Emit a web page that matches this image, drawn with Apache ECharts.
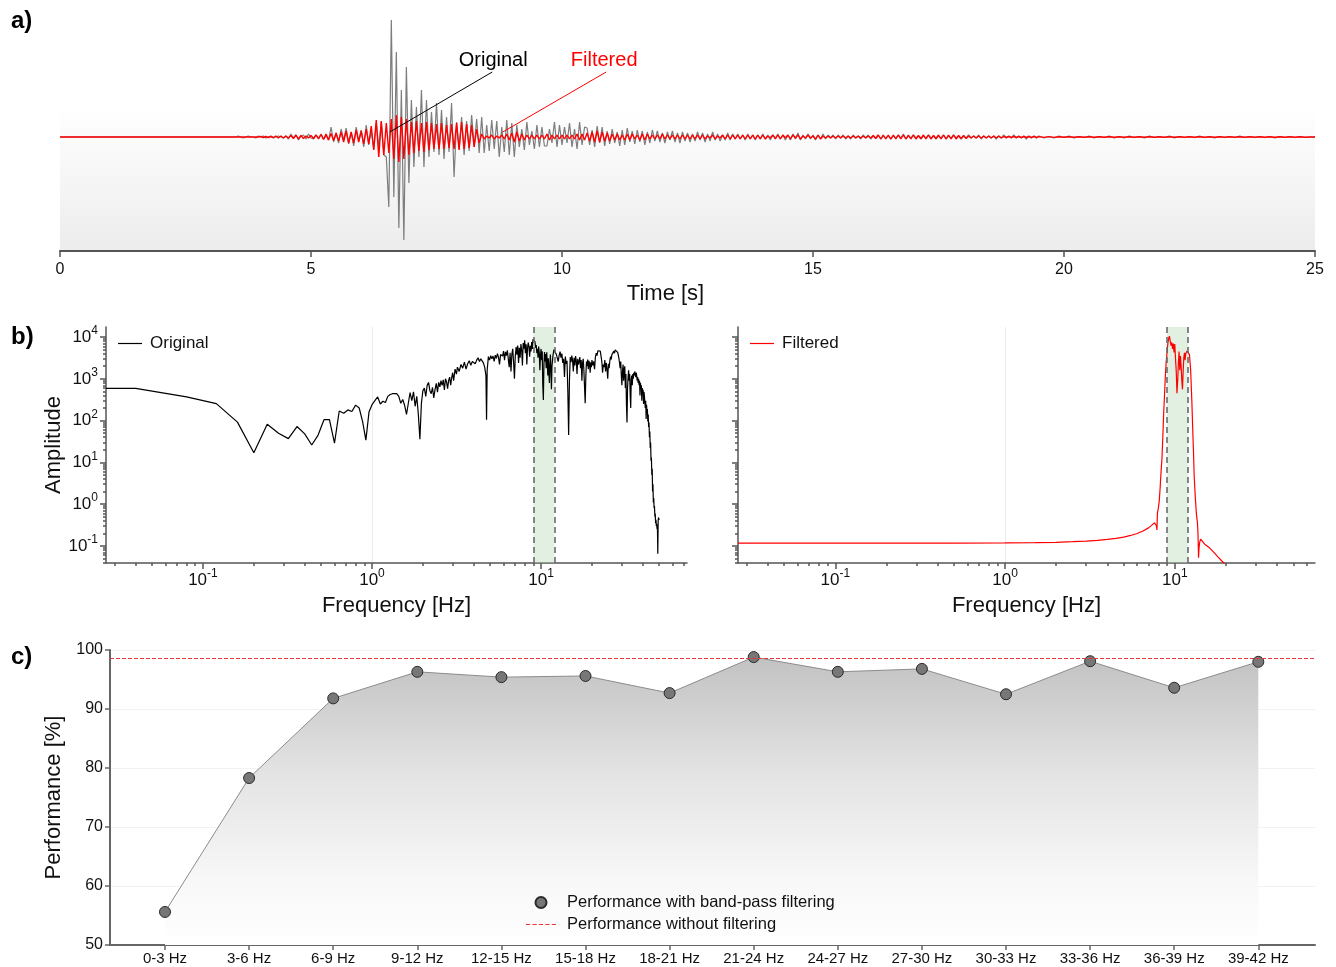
<!DOCTYPE html>
<html>
<head>
<meta charset="utf-8">
<script src="https://cdn.jsdelivr.net/npm/echarts@6/dist/echarts.min.js"></script>
<style>
  html, body { margin: 0; padding: 0; background: #fff; }
  #chart { width: 1336px; height: 967px; }
</style>
</head>
<body>
<div id="chart"></div>
<script>
// ---------- a) seismogram, original vs band-pass filtered ----------
const TIME_MIN = 0, TIME_MAX = 25, TIME_STEP = 5;

// Dense part of the record: one sample every 0.05 s starting at 3.5 s (one row = 1 s)
const burstStart = 3.5, burstDt = 0.05;
const originalBurst = [
  0,1,0,-1,0,1,0,0,-1,1, 0,1,-1,0,1,-1,0,1,0,-1,
  1,-2,3,-1,2,-3,1,2,-2,3, -1,-2,2,-1,3,-2,1,-3,10,-5,
  4,-6,8,-3,9,-7,5,-9,10,-4, 7,-10,12,-8,6,-12,14,-10,15,-18,
  -20,-70,117,-60,85,-91,47,-103,70,-46, 37,-30,30,-20,47,-30,37,-20,25,-15,
  34,-18,27,-22,20,-15,34,-40,15,-12, 20,-18,16,-14,22,-10,18,-16,20,-16,
  12,-14,17,-12,16,-20,10,-15,17,-18, 14,-20,12,-10,8,-13,15,-8,6,-12,
  12,-10,10,-9,-9,8,-6,15,-10,12, -8,10,-6,14,-10,8,-12,15,-8,10,
  9,-8,7,-10,11,-6,10,-9,6,-7, 8,-6,5,-9,7,-8,9,-5,6,-7,
  7,-5,6,-8,5,-6,7,-4,6,-5, 4,-6,5,-3,6,-5,4,-6,5,-4,
  4,-5,3,-4,5,-3,4,-5,3,-4, 5,-3,3,-4,2,-3,4,-3,3,-2,
  3,-2,2,-3,3,-2,2,-3,2,-2, 3,-2,2,-3,2,-1,3,-2,2,-3,
  2,-3,3,-2,4,-3,2,-2,3,-2, 2,-3,2,-2,3,-2,2,-1,2,-2,
  2,-1,2,-2,1,-2,2,-1,1,-2, 2,-1,2,-2,1,-1,2,-2,1,-1,
  1,-2,1,-1,2,-1,3,-2,1,-1, 2,-1,1,-2,1,-1,2,-1,1,-2,
  1,-1,2,-2,1,-1,2,-1,1,-2, 1,-1,2,-1,1,-1,2,-2,1,-1,
  1,-1,1,-2,1,-1,2,-1,1,-1, 2,-1,1,-1,1,-2,1,-1,1,-1
];
const filteredBurst = [
  0,0,0,0,0,0,0,0,0,0, 0.5,-0.5,0.5,-0.5,0.5,-0.5,1,-1,1,-1,
  1,-1,1.5,-1.5,2,-2,1.5,-1.5,1,-1, 1.5,-1.5,2,-2,2.5,-2.5,3,-3,3.5,-3.5,
  4,-4,5,-5,6,-6,5,-6,7,-5, 6,-7,8,-7,11,-13,17,-20,16,-18,
  14,-16,18,-22,22,-25,20,-22,18,-18, 15,-16,16,-14,14,-15,15,-13,14,-12,
  13,-12,14,-12,12,-11,13,-12,14,-13, 15,-12,13,-11,12,-10,8,-6,3,-2,
  1,-1,2,-2,1,-1,2,-2,3,-3, 4,-5,5,-4,3,-3,2,-2,2,-2,
  2,-2,2,-2,3,-3,2,-2,2,-2, 2,-2,2,-2,2,-2,3,-3,3,-3,
  4,-4,5,-5,6,-5,5,-4,4,-4, 3,-3,3,-3,2,-3,3,-3,3,-2,
  2,-3,3,-3,3,-2,2,-2,2,-2, 3,-2,2,-2,2,-2,2,-2,2,-2,
  2,-2,2,-2,2,-2,2,-2,1,-1, 2,-2,1,-1,2,-2,2,-2,2,-2,
  2,-2,2,-2,2,-2,2,-2,2,-2, 2,-2,1,-1,2,-2,2,-2,2,-1,
  2,-2,2,-1,2,-2,1,-1,2,-1, 1,-2,2,-2,1,-1,1,-1,1,-1,
  1,-1,1,-1,1,-1,1,-1,1,-1, 1,-1,1,-1,1.5,-1.5,2,-2,2,-2,
  2,-2,2,-2,2,-2,2,-2,2,-2, 2,-2,1.5,-1.5,2,-2,2,-2,1.5,-1.5,
  2,-2,2,-2,2,-2,2,-2,1.5,-1.5, 1.5,-1.5,1,-1,1,-1,1,-1,1,-1,
  1,-1,1,-1,1,-1,0.5,-0.5,0.5,-0.5, 0.5,-0.5,0.5,-0.5,0.5,-0.5,0.5,-0.5,0.5,-0.5
];
// Quiet coda: one sample every 0.1 s from 19.5 s
const codaStart = 19.5, codaDt = 0.1;
const originalCoda = [
  1,-1,0.5,-1,1,-0.5,1,-1,0.5,-0.5, 1,-1,0.5,-0.5,1,-1,0.5,-1,1,-0.5,
  0.5,-1,1,-0.5,0.5,-0.5,1,-1,0.5,-0.5, 0.5,-0.5,1,-0.5,0.5,-1,0.5,-0.5,0.5,-0.5,
  1,-0.5,0.5,-0.5,0.5,-0.5,0.5,-1,0.5,-0.5, 0.5,-0.5,0.5,-0.5,0
];
const filteredCoda = [
  0.4,-0.4,0.4,-0.4,0.3,-0.3,0.3,-0.3,0.3,-0.3, 0.3,-0.3,0.3,-0.3,0.3,-0.3,0.3,-0.3,0.3,-0.3,
  0.3,-0.3,0.2,-0.2,0.2,-0.2,0.2,-0.2,0.2,-0.2, 0.2,-0.2,0.2,-0.2,0.2,-0.2,0.2,-0.2,0.2,-0.2,
  0.2,-0.2,0.2,-0.2,0.2,-0.2,0.2,-0.2,0.2,-0.2, 0.2,-0.2,0.2,-0.2,0
];

// ---------- b) amplitude spectra [frequency Hz, amplitude] ----------
const FREQ_MIN = 0.0267;
const FREQ_MAX_LEFT = 73, FREQ_MAX_RIGHT = 67;
const AMP_MIN = 0.039, AMP_MAX = 17400;
const passBand = [9, 12];
const freqMajorTicks = [0.1, 1, 10];
const ampMajorTicks = [0.1, 1, 10, 100, 1000, 10000];

const originalSpectrum = [
  [0.0267,590],[0.04,590],[0.08,370],[0.12,255],[0.16,92],[0.2,17],[0.24,82],[0.28,50],[0.32,37],[0.36,72],
  [0.4,48],[0.44,26],[0.48,45],[0.52,105],[0.56,105],[0.6,29],[0.64,170],[0.68,150],[0.72,180],[0.76,165],
  [0.8,235],[0.84,200],[0.88,95],[0.92,34],[0.96,160],[1.0,240],[1.04,300],[1.08,370],[1.12,250],[1.16,290],
  [1.2,270],[1.24,380],[1.28,420],[1.32,440],[1.4,440],[1.44,380],[1.48,260],[1.52,320],[1.56,230],[1.6,140],
  [1.64,260],[1.68,470],[1.72,300],[1.76,490],[1.8,220],[1.84,380],[1.88,140],[1.92,36],[1.96,260],[2.0,520],
  [2.04,600],[2.08,380],[2.12,700],[2.16,820],[2.2,520],[2.24,440],[2.28,620],[2.32,350],[2.36,560],[2.4,780],
  [2.44,480],[2.48,820],[2.52,640],[2.56,900],[2.6,700],[2.64,950],[2.68,540],[2.72,1000],[2.76,850],[2.8,580],
  [2.84,920],[2.88,1100],[2.92,700],[2.96,1050],[3.0,1400],[3.04,900],[3.1,1700],[3.16,1300],[3.2,1900],[3.28,1500],
  [3.36,2200],[3.44,1800],[3.52,2500],[3.6,1700],[3.68,2300],[3.76,2700],[3.84,2100],[3.92,2600],[4.0,2900],[4.08,2300],
  [4.16,2800],[4.24,3200],[4.32,2600],[4.4,3000],[4.48,2700],[4.56,2400],[4.64,1900],[4.72,1200],[4.76,105],[4.8,1600],
  [4.88,3400],[4.96,2800],[5.04,3600],[5.12,3000],[5.2,3500],[5.28,2600],[5.36,3700],[5.44,3100],[5.52,4000],[5.6,3300],
  [5.68,2200],[5.76,3800],[5.84,4200],[5.92,3500],[6.0,4600],[6.08,2800],[6.16,4400],[6.24,3600],[6.32,4800],[6.4,3000],
  [6.48,1900],[6.56,4200],[6.64,1500],[6.72,3900],[6.8,5200],[6.88,2500],[6.96,1000],[7.04,3500],[7.12,5800],[7.2,3800],
  [7.28,6300],[7.36,2400],[7.44,5500],[7.52,3200],[7.6,6800],[7.68,4800],[7.76,2100],[7.84,7200],[7.92,5300],[8.0,8400],
  [8.08,4100],[8.16,6700],[8.24,2200],[8.32,5600],[8.4,7400],[8.48,5800],[8.56,3400],[8.64,6200],[8.72,4500],[8.8,7600],
  [8.88,5200],[8.96,8800],[9.04,9600],[9.12,8400],[9.2,7800],[9.28,5600],[9.36,6400],[9.44,4100],[9.52,5200],[9.6,3200],
  [9.68,5900],[9.76,4200],[9.84,1600],[9.92,3600],[10.0,5200],[10.08,2800],[10.16,4600],[10.24,700],[10.32,310],[10.4,2200],
  [10.48,4400],[10.56,2600],[10.64,3900],[10.72,1800],[10.8,4300],[10.88,2500],[10.96,1200],[11.04,3100],[11.2,800],[11.28,2400],
  [11.36,3800],[11.44,1500],[11.52,560],[11.6,2000],[11.76,3600],[11.92,5000],[12.0,5400],[12.16,4600],[12.32,3800],[12.48,4200],
  [12.64,2600],[12.8,3700],[12.96,4500],[13.12,3200],[13.28,4000],[13.44,2400],[13.6,3000],[13.76,1100],[13.92,3400],[14.08,2300],
  [14.24,2700],[14.4,520],[14.56,45],[14.72,900],[14.88,3300],[15.04,2500],[15.2,3600],[15.36,2800],[15.52,1500],[15.68,3200],
  [15.84,2100],[16.0,3500],[16.16,2700],[16.32,1300],[16.48,3000],[16.64,2200],[16.8,2600],[16.96,3300],[17.12,1800],[17.28,2800],
  [17.44,900],[17.6,2400],[17.76,3000],[17.92,1600],[18.08,650],[18.24,260],[18.4,1100],[18.56,2600],[18.72,2000],[18.88,2900],
  [19.04,1700],[19.2,2700],[19.36,2300],[19.52,1400],[19.68,2500],[19.84,1900],[20.0,2800],[20.24,2100],[20.48,2600],[20.72,1700],
  [20.96,3300],[21.2,4100],[21.44,3600],[21.68,4700],[21.92,4300],[22.16,5000],[22.4,4600],[22.64,3500],[22.88,2600],[23.12,1400],
  [23.36,2200],[23.6,1900],[23.84,2800],[24.08,1500],[24.32,2400],[24.56,1700],[24.8,1000],[25.04,2300],[25.28,1800],[25.52,2700],
  [25.76,3400],[26.0,2900],[26.24,3800],[26.48,4200],[26.72,3600],[26.96,4600],[27.2,4100],[27.44,4900],[27.68,5200],[27.92,4800],
  [28.16,5100],[28.4,4300],[28.64,3700],[28.88,3100],[29.12,2400],[29.36,1800],[29.6,2600],[29.84,1200],[30.08,700],[30.32,1500],
  [30.56,2200],[30.8,900],[31.04,1700],[31.28,2000],[31.52,600],[31.76,1300],[32.0,250],[32.24,90],[32.48,600],[32.72,1100],
  [32.96,1600],[33.2,900],[33.44,1300],[33.68,400],[33.92,200],[34.16,1000],[34.4,1200],[34.64,700],[34.88,1300],[35.12,1000],
  [35.36,1400],[35.6,1200],[35.84,1500],[36.08,1300],[36.32,1100],[36.56,1400],[36.8,1200],[37.04,900],[37.28,1100],[37.52,800],
  [37.76,1000],[38.0,700],[38.24,900],[38.48,400],[38.72,800],[38.96,600],[39.2,700],[39.44,300],[39.68,600],[39.92,450],
  [40.16,550],[40.4,250],[40.64,480],[40.88,380],[41.12,420],[41.36,200],[41.6,300],[41.84,110],[42.08,240],[42.32,150],
  [42.56,190],[42.8,95],[43.04,140],[43.28,70],[43.52,90],[43.76,40],[44.0,55],[44.24,22],[44.48,30],[44.72,11],
  [44.96,13],[45.2,5],[45.44,7],[45.68,2],[45.92,3],[46.16,1.1],[46.4,1.4],[46.64,0.8],[46.88,0.9],[47.12,0.5],
  [47.36,0.6],[47.6,0.35],[47.84,0.42],[48.08,0.3],[48.32,0.34],[48.56,0.25],[48.8,0.28],[49.04,0.065],[49.28,0.4],[49.52,0.48],
  [49.76,0.42],[50.0,0.45]
];
const filteredSpectrum = [
  [0.0267,0.116],[0.1,0.116],[0.5,0.117],[1.0,0.118],[1.5,0.12],[2.0,0.122],[2.5,0.126],[3.0,0.13],[3.5,0.136],[4.0,0.143],
  [4.5,0.152],[5.0,0.163],[5.5,0.178],[6.0,0.198],[6.5,0.228],[7.0,0.27],[7.3,0.31],[7.6,0.36],[7.7,0.4],[7.8,0.3],
  [7.85,0.24],[7.9,0.6],[8.0,0.8],[8.1,1.2],[8.2,2.5],[8.3,6],[8.4,12],[8.5,40],[8.6,150],[8.7,420],
  [8.8,1200],[8.9,2600],[9.0,4200],[9.1,7000],[9.2,9200],[9.3,10500],[9.4,8000],[9.5,6200],[9.6,7400],[9.7,5200],
  [9.8,7000],[9.9,4300],[10.0,6800],[10.1,3000],[10.2,1500],[10.3,450],[10.4,900],[10.5,2400],[10.6,4500],[10.7,1600],
  [10.8,3500],[10.9,2000],[11.0,900],[11.1,560],[11.2,1500],[11.3,3200],[11.4,4200],[11.5,2800],[11.6,4000],[11.8,4600],
  [12.0,4900],[12.2,3800],[12.4,1600],[12.6,300],[12.8,40],[12.9,16],[13.0,5],[13.2,1.5],[13.4,0.6],[13.6,0.35],
  [13.7,0.2],[13.8,0.052],[13.9,0.09],[14.0,0.12],[14.2,0.145],[14.4,0.13],[15.0,0.11],[16,0.09],[17,0.07],[18,0.054],
  [19,0.043],[20,0.035],[22,0.025]
];

// ---------- c) classification performance per frequency band ----------
const bandLabels = ['0-3 Hz','3-6 Hz','6-9 Hz','9-12 Hz','12-15 Hz','15-18 Hz','18-21 Hz',
                    '21-24 Hz','24-27 Hz','27-30 Hz','30-33 Hz','33-36 Hz','36-39 Hz','39-42 Hz'];
const performanceFiltered = [55.6, 78.3, 91.8, 96.3, 95.4, 95.6, 92.7, 98.8, 96.3, 96.8, 92.5, 98.1, 93.6, 98.0];
const performanceUnfiltered = 98.6;
const PERF_MIN = 50, PERF_MAX = 100, PERF_STEP = 10;

// ---------- helpers ----------
const FONT = "'Liberation Sans', Arial, Helvetica, sans-serif";
const AXIS_COLOR = '#555';
const TEXT_COLOR = '#111';
// legend glyphs: a plain stroke and a dashed stroke
const SOLID_ICON = 'path://M0,0H20V1H0Z';
const DASHED_ICON = 'path://M0,0H4V1H0Z M6,0H10V1H6Z M12,0H16V1H12Z M18,0H22V1H18Z M24,0H28V1H24Z';

function buildTrace(segments) {
  const pts = [[TIME_MIN, 0]];
  segments.forEach(function (seg) {
    seg.values.forEach(function (v, i) {
      pts.push([+(seg.t0 + i * seg.dt).toFixed(3), v]);
    });
  });
  pts.push([TIME_MAX, 0]);
  return pts;
}

// minor ticks 2..9 per decade inside [lo, hi]
function minorLogTicks(lo, hi) {
  const out = [];
  for (let e = -3; e <= 6; e++) {
    for (let m = 2; m <= 9; m++) {
      const v = +(m * Math.pow(10, e)).toPrecision(6);
      if (v > lo && v < hi) out.push(v);
    }
  }
  return out;
}

const pow10Label = {
  fontFamily: FONT, color: TEXT_COLOR, fontSize: 17,
  formatter: function (v) { return '{b|10}{e|' + Math.round(Math.log10(v)) + '}'; },
  rich: {
    b: { fontFamily: FONT, fontSize: 17, lineHeight: 24, color: TEXT_COLOR },
    e: { fontFamily: FONT, fontSize: 12, lineHeight: 13, verticalAlign: 'top', color: TEXT_COLOR }
  }
};

const axisLineStyle = { color: AXIS_COLOR, width: 1.5 };
const nameStyle = { fontFamily: FONT, fontSize: 22, color: TEXT_COLOR };

function logMajorX(grid, fmax) {
  return {
    type: 'log', gridIndex: grid, position: 'bottom', min: FREQ_MIN, max: fmax,
    axisLine: { show: true, onZero: false, lineStyle: axisLineStyle },
    axisTick: { show: true, customValues: freqMajorTicks, length: 6, lineStyle: axisLineStyle },
    axisLabel: Object.assign({ customValues: freqMajorTicks, margin: 5 }, pow10Label),
    splitLine: { show: true, showMinLine: false, showMaxLine: false, lineStyle: { color: '#ececec', width: 1 } },
    name: 'Frequency [Hz]', nameLocation: 'middle', nameGap: 32, nameTextStyle: nameStyle
  };
}
function logMinorX(grid, fmax) {
  return {
    type: 'log', gridIndex: grid, position: 'bottom', min: FREQ_MIN, max: fmax,
    axisLine: { show: false },
    axisTick: { show: true, customValues: minorLogTicks(FREQ_MIN, fmax), length: 3, lineStyle: axisLineStyle },
    axisLabel: { show: false }, splitLine: { show: false }
  };
}
function logMajorY(grid, withLabels) {
  const ax = {
    type: 'log', gridIndex: grid, position: 'left', min: AMP_MIN, max: AMP_MAX,
    axisLine: { show: true, onZero: false, lineStyle: axisLineStyle },
    axisTick: { show: true, customValues: ampMajorTicks, length: 6, lineStyle: axisLineStyle },
    axisLabel: withLabels ? Object.assign({ customValues: ampMajorTicks, margin: 8 }, pow10Label) : { show: false },
    splitLine: { show: false }
  };
  if (withLabels) {
    Object.assign(ax, { name: 'Amplitude', nameLocation: 'middle', nameGap: 40, nameRotate: 90, nameTextStyle: nameStyle });
  }
  return ax;
}
function logMinorY(grid) {
  return {
    type: 'log', gridIndex: grid, position: 'left', min: AMP_MIN, max: AMP_MAX,
    axisLine: { show: false },
    axisTick: { show: true, customValues: minorLogTicks(AMP_MIN, AMP_MAX), length: 3, lineStyle: axisLineStyle },
    axisLabel: { show: false }, splitLine: { show: false }
  };
}

function passBandMarks() {
  return {
    markArea: {
      silent: true,
      itemStyle: { color: 'rgba(180,215,175,0.38)' },
      data: [[{ xAxis: passBand[0] }, { xAxis: passBand[1] }]]
    },
    markLine: {
      silent: true, symbol: ['none', 'none'], label: { show: false },
      lineStyle: { color: '#6a6a6a', type: [6, 4], width: 1.6 },
      data: [{ xAxis: passBand[0] }, { xAxis: passBand[1] }]
    }
  };
}

const bandPositions = bandLabels.map(function (_, i) { return i; });

const chart = echarts.init(document.getElementById('chart'), null, { renderer: 'canvas' });

chart.setOption({
  animation: false,
  backgroundColor: '#ffffff',
  textStyle: { fontFamily: FONT },
  grid: [
    { left: 60, right: 21, top: 18, height: 233 },
    { left: 106, width: 581, top: 327, height: 236 },
    { left: 738, width: 577, top: 327, height: 236 },
    { left: 110, right: 21, top: 650, height: 295 }
  ],
  graphic: [
    { type: 'rect', silent: true, z: 0,
      shape: { x: 60, y: 105, width: 1255, height: 145 },
      style: { fill: { type: 'linear', x: 0, y: 0, x2: 0, y2: 1,
        colorStops: [{ offset: 0, color: 'rgba(238,238,238,0)' }, { offset: 1, color: '#ececec' }] } } },
    { type: 'text', left: 11, top: 9, style: { text: 'a)', font: 'bold 24px ' + FONT, fill: '#000' } },
    { type: 'text', left: 11, top: 325, style: { text: 'b)', font: 'bold 24px ' + FONT, fill: '#000' } },
    { type: 'text', left: 11, top: 645, style: { text: 'c)', font: 'bold 24px ' + FONT, fill: '#000' } }
  ],
  legend: [
    { data: [{ name: 'Original', icon: SOLID_ICON }], left: 118, top: 335, padding: 0, itemWidth: 24, itemHeight: 12,
      selectedMode: false, z: 10, textStyle: { fontFamily: FONT, fontSize: 17, color: TEXT_COLOR, padding: [0, 0, 0, 3] } },
    { data: [{ name: 'Filtered', icon: SOLID_ICON }], left: 750, top: 335, padding: 0, itemWidth: 24, itemHeight: 12,
      selectedMode: false, z: 10, textStyle: { fontFamily: FONT, fontSize: 17, color: TEXT_COLOR, padding: [0, 0, 0, 3] } },
    { data: [{ name: 'Performance with band-pass filtering', icon: 'circle' },
             { name: 'Performance without filtering', icon: DASHED_ICON }],
      orient: 'vertical', left: 526, top: 894, padding: 0, itemWidth: 30, itemHeight: 11, itemGap: 5,
      selectedMode: false, z: 10,
      textStyle: { fontFamily: FONT, fontSize: 16.5, color: TEXT_COLOR, padding: [0, 0, 0, 6] } }
  ],
  xAxis: [
    { type: 'value', gridIndex: 0, min: TIME_MIN, max: TIME_MAX, interval: TIME_STEP,
      axisLine: { show: true, onZero: false, lineStyle: { color: AXIS_COLOR, width: 2 } },
      axisTick: { show: true, length: 6, lineStyle: { color: AXIS_COLOR, width: 1.5 } },
      axisLabel: { fontFamily: FONT, fontSize: 16, color: TEXT_COLOR, margin: 11 },
      splitLine: { show: false },
      name: 'Time [s]', nameLocation: 'middle', nameGap: 32,
      nameTextStyle: Object.assign({ padding: [0, 44, 0, 0] }, nameStyle) },
    logMajorX(1, FREQ_MAX_LEFT), logMinorX(1, FREQ_MAX_LEFT),
    logMajorX(2, FREQ_MAX_RIGHT), logMinorX(2, FREQ_MAX_RIGHT),
    { type: 'value', gridIndex: 3, min: -0.654, max: 13.674,
      axisLine: { show: true, onZero: false, lineStyle: { color: '#666', width: 2 } },
      axisTick: { show: true, customValues: bandPositions, length: 5, lineStyle: { color: '#666', width: 1.5 } },
      axisLabel: { customValues: bandPositions, fontFamily: FONT, fontSize: 15, color: TEXT_COLOR, margin: 6,
        formatter: function (v) { return bandLabels[Math.round(v)]; } },
      splitLine: { show: false } }
  ],
  yAxis: [
    { type: 'value', gridIndex: 0, min: -114, max: 119, show: false },
    logMajorY(1, true), logMinorY(1),
    logMajorY(2, false), logMinorY(2),
    { type: 'value', gridIndex: 3, min: PERF_MIN, max: PERF_MAX, interval: PERF_STEP,
      axisLine: { show: true, onZero: false, lineStyle: { color: '#666', width: 2 } },
      axisTick: { show: true, length: 5, lineStyle: { color: '#666', width: 1.5 } },
      axisLabel: { fontFamily: FONT, fontSize: 16, color: TEXT_COLOR, margin: 7 },
      splitLine: { show: true, lineStyle: { color: '#f2f2f2', width: 1 } },
      name: 'Performance [%]', nameLocation: 'middle', nameGap: 38, nameRotate: 90, nameTextStyle: nameStyle }
  ],
  series: [
    // a) traces
    { name: 'Original trace', type: 'line', xAxisIndex: 0, yAxisIndex: 0, symbol: 'none', z: 3,
      data: buildTrace([{ t0: burstStart, dt: burstDt, values: originalBurst }, { t0: codaStart, dt: codaDt, values: originalCoda }]),
      lineStyle: { color: '#7d7d7d', width: 1.2 },
      markLine: { silent: true, symbol: ['none', 'none'], label: { show: false },
        lineStyle: { color: '#000', type: 'solid', width: 1 },
        data: [[{ coord: [6.57, 5] }, { coord: [8.61, 65] }]] },
      markPoint: { silent: true, symbol: 'rect', symbolSize: [1, 1], itemStyle: { color: 'rgba(0,0,0,0)' },
        label: { show: true, position: 'inside', fontFamily: FONT, fontSize: 20, color: '#000', formatter: 'Original' },
        data: [{ coord: [8.63, 77] }] } },
    { name: 'Filtered trace', type: 'line', xAxisIndex: 0, yAxisIndex: 0, symbol: 'none', z: 4,
      data: buildTrace([{ t0: burstStart, dt: burstDt, values: filteredBurst }, { t0: codaStart, dt: codaDt, values: filteredCoda }]),
      lineStyle: { color: '#ff0000', width: 1.4 },
      markLine: { silent: true, symbol: ['none', 'none'], label: { show: false },
        lineStyle: { color: '#ff0000', type: 'solid', width: 1 },
        data: [[{ coord: [8.82, 5] }, { coord: [10.88, 65] }]] },
      markPoint: { silent: true, symbol: 'rect', symbolSize: [1, 1], itemStyle: { color: 'rgba(0,0,0,0)' },
        label: { show: true, position: 'inside', fontFamily: FONT, fontSize: 20, color: '#ff0000', formatter: 'Filtered' },
        data: [{ coord: [10.84, 77] }] } },
    // b) spectra
    Object.assign({ name: 'Original', type: 'line', xAxisIndex: 1, yAxisIndex: 1, symbol: 'none',
      data: originalSpectrum, lineStyle: { color: '#000', width: 1.2 }, itemStyle: { color: '#000' } }, passBandMarks()),
    Object.assign({ name: 'Filtered', type: 'line', xAxisIndex: 3, yAxisIndex: 3, symbol: 'none',
      data: filteredSpectrum, lineStyle: { color: '#ff0000', width: 1.2 }, itemStyle: { color: '#ff0000' } }, passBandMarks()),
    // c) performance
    { name: 'Performance with band-pass filtering', type: 'line', xAxisIndex: 5, yAxisIndex: 5, z: 4,
      data: performanceFiltered.map(function (v, i) { return [i, v]; }),
      symbol: 'circle', symbolSize: 11, showSymbol: true,
      itemStyle: { color: '#777777', borderColor: '#2a2a2a', borderWidth: 1 },
      lineStyle: { color: '#8c8c8c', width: 1 },
      areaStyle: { origin: 'start', opacity: 1, color: { type: 'linear', x: 0, y: 0, x2: 0, y2: 1,
        colorStops: [{ offset: 0, color: '#c2c2c2' }, { offset: 0.4, color: '#e3e3e3' },
                     { offset: 0.78, color: '#f8f8f8' }, { offset: 1, color: '#ffffff' }] } } },
    { name: 'Performance without filtering', type: 'line', xAxisIndex: 5, yAxisIndex: 5, z: 3,
      data: [], symbol: 'none', itemStyle: { color: '#e8363b' },
      lineStyle: { color: '#e8363b', type: [4, 2], width: 1 },
      markLine: { silent: true, symbol: ['none', 'none'], label: { show: false },
        lineStyle: { color: '#e8363b', type: [4, 2], width: 1 },
        data: [{ yAxis: performanceUnfiltered }] } }
  ]
});
</script>
</body>
</html>
